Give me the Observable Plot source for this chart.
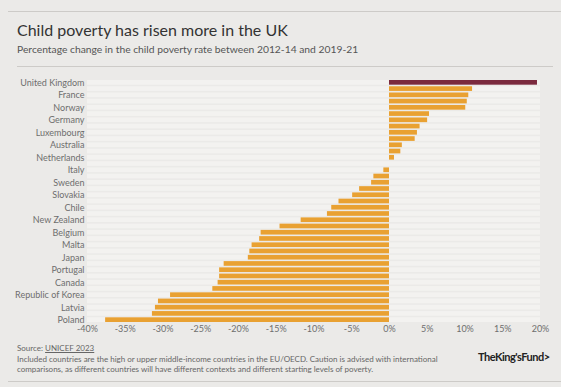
<!DOCTYPE html>
<html><head><meta charset="utf-8">
<script src="https://cdn.jsdelivr.net/npm/d3@7"></script>
<script src="https://cdn.jsdelivr.net/npm/@observablehq/plot@0.6"></script>
<style>
body{margin:0;background:#ebeae8;font-family:Lato,sans-serif;}
#wrap{position:relative;width:561px;height:387px;overflow:hidden;background:#ebeae8;}
.rule{position:absolute;height:1px;background:#cdcbc8;}
#title{position:absolute;left:17px;top:20px;font-size:16px;color:#333;white-space:nowrap;}
#subtitle{position:absolute;left:17px;top:43px;font-size:10.3px;color:#555;white-space:nowrap;}
#chart{position:absolute;left:0;top:72px;}
#chart svg{display:block;}
#foot{position:absolute;left:17px;top:343px;font-size:8px;line-height:10.5px;color:#666;width:440px;}
#foot u{color:#666;}
#logo{position:absolute;left:478px;top:350px;font-size:11px;font-weight:bold;color:#222;letter-spacing:-0.5px;white-space:nowrap;}
</style></head>
<body>
<div id="wrap">
  <div class="rule" style="left:8px;top:11px;width:553px;"></div>
  <div id="title">Child poverty has risen more in the UK</div>
  <div id="subtitle">Percentage change in the child poverty rate between 2012-14 and 2019-21</div>
  <div class="rule" style="left:17px;top:66px;width:536px;"></div>
  <div id="chart"></div>
  <div id="foot">Source: <u>UNICEF 2023</u><br>Included countries are the high or upper middle-income countries in the EU/OECD. Caution is advised with international comparisons, as different countries will have different contexts and different starting levels of poverty.</div>
  <div id="logo">TheKing'sFund&gt;</div>
  <div class="rule" style="left:8px;top:381px;width:553px;"></div>
</div>
<script>
const countries = ["United Kingdom","Iceland","France","Switzerland","Norway","Denmark","Germany","Austria","Luxembourg","Finland","Australia","Türkiye","Netherlands","Cyprus","Italy","Spain","Sweden","Mexico","Slovakia","Greece","Chile","United States","New Zealand","Ireland","Belgium","Hungary","Malta","Czechia","Japan","Croatia","Portugal","Estonia","Canada","Romania","Republic of Korea","Slovenia","Latvia","Lithuania","Poland"];
const values = [19.6,11.0,10.5,10.3,10.1,5.3,5.05,4.05,3.7,3.4,1.7,1.5,0.66,0,-0.75,-2.07,-2.37,-3.96,-4.88,-6.69,-7.65,-8.22,-11.7,-14.5,-17.0,-17.2,-18.2,-18.5,-18.7,-21.9,-22.5,-22.5,-22.7,-23.4,-29.0,-30.6,-31.0,-31.4,-37.6];
const labeledCountries = ["United Kingdom","France","Norway","Germany","Luxembourg","Australia","Netherlands","Italy","Sweden","Slovakia","Chile","New Zealand","Belgium","Malta","Japan","Portugal","Canada","Republic of Korea","Latvia","Poland"];
const xTicks = [-40,-35,-30,-25,-20,-15,-10,-5,0,5,10,15,20];
const highlight = "United Kingdom";

const data = countries.map((c, i) => ({country: c, value: values[i]}));

const chart = Plot.plot({
  width: 561,
  height: 266,
  marginLeft: 87,
  marginRight: 21,
  marginTop: 8,
  marginBottom: 16,
  style: {background: "transparent", fontFamily: "Lato, sans-serif", fontSize: "9px", color: "#6e6e6e"},
  x: {domain: [-40, 20], ticks: xTicks, tickFormat: d => d + "%", tickSize: 0, tickPadding: 3, label: null},
  y: {domain: countries, ticks: labeledCountries, tickSize: 0, tickPadding: 3, label: null, paddingInner: 0.25, paddingOuter: 0, round: false},
  marks: [
    Plot.barX(countries, {x1: -40, x2: 20, y: d => d, fill: "#f3f2f0"}),
    Plot.barX(data, {x: "value", y: "country", fill: d => d.country === highlight ? "#7b2a3e" : "#e9a132"})
  ]
});
document.getElementById("chart").appendChild(chart);
</script>
</body></html>
